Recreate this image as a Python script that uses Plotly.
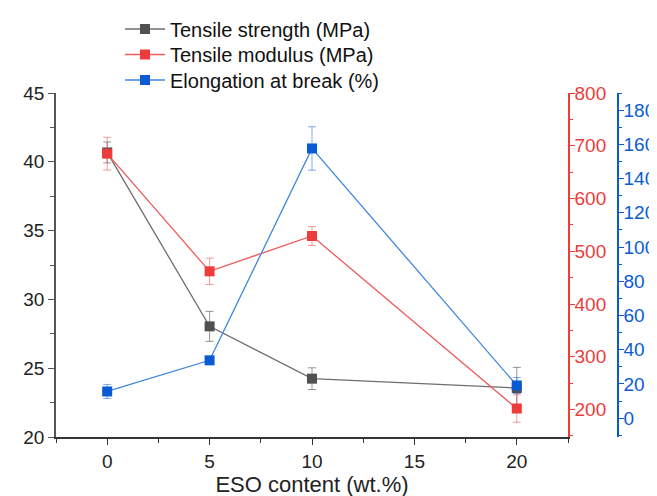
import plotly.graph_objects as go

eso = [0, 5, 10, 20]
strength = [40.68, 28.04, 24.24, 23.56]
strength_err = [0.76, 1.09, 0.79, 1.5]
modulus = [685, 462, 529, 202]
modulus_err = [31, 25, 18, 26]
elong = [15.6, 33.8, 157.6, 19.1]
elong_err = [4.1, 2.0, 12.7, 4.7]

FONT = "Arial, Liberation Sans, sans-serif"
GRAY = "#505050"
RED = "#ee3b3b"
BLUE = "#0a5bd3"
W, H = 657, 496

fig = go.Figure()
fig.add_trace(go.Scatter(
    x=eso, y=strength, name="Tensile strength (MPa)", mode="lines+markers",
    line=dict(color="#6e6e6e", width=1.3),
    marker=dict(symbol="square", size=10, color=GRAY),
    error_y=dict(type="data", array=strength_err, color="rgba(80,80,80,0.6)", thickness=1, width=4),
    yaxis="y", legend="legend"))
fig.add_trace(go.Scatter(
    x=eso, y=modulus, name="Tensile modulus (MPa)", mode="lines+markers",
    line=dict(color="#f05a5a", width=1.3),
    marker=dict(symbol="square", size=10, color=RED),
    error_y=dict(type="data", array=modulus_err, color="rgba(238,59,59,0.5)", thickness=1, width=4),
    yaxis="y2", legend="legend2"))
fig.add_trace(go.Scatter(
    x=eso, y=elong, name="Elongation at break (%)", mode="lines+markers",
    line=dict(color="#3f86dd", width=1.3),
    marker=dict(symbol="square", size=10, color=BLUE),
    error_y=dict(type="data", array=elong_err, color="rgba(10,91,211,0.5)", thickness=1, width=4),
    yaxis="y3", legend="legend3"))

def leg(ycenter):
    return dict(x=112 / W, y=1 - ycenter / H, xref="container", yref="container",
                xanchor="left", yanchor="middle", bgcolor="rgba(0,0,0,0)",
                font=dict(size=20, color="#111"), itemwidth=40)

fig.update_layout(
    width=W, height=H,
    margin=dict(l=48, r=45, t=85, b=67, autoexpand=False),
    paper_bgcolor="white", plot_bgcolor="white",
    font=dict(family=FONT, size=19, color="#222"),
    showlegend=True,
    legend=leg(21), legend2=leg(46.5), legend3=leg(72),
    xaxis=dict(domain=[0, 0.9078], range=[-2.5, 22.5], tickvals=[0, 5, 10, 15, 20],
               showline=True, linecolor="#333", linewidth=1.5, ticks="outside",
               ticklen=6, tickcolor="#333", showgrid=False, zeroline=False,
               minor=dict(ticks="outside", ticklen=4, dtick=2.5, tick0=0, tickcolor="#333"),
               title=dict(text="ESO content (wt.%)", font=dict(size=22), standoff=1)),
    yaxis=dict(range=[20, 45], dtick=5, showline=True, linecolor="#555", linewidth=1.5,
               ticks="outside", ticklen=6, tickcolor="#555", showgrid=False, zeroline=False,
               minor=dict(ticks="outside", ticklen=4, dtick=2.5, tickcolor="#555")),
    yaxis2=dict(range=[148, 800], dtick=100, tick0=0, overlaying="y", side="right",
                anchor="x", showline=True, linecolor=RED, linewidth=1.5,
                ticks="outside", ticklen=5, tickcolor=RED, tickfont=dict(color=RED),
                ticklabelstandoff=-4,
                showgrid=False, zeroline=False,
                minor=dict(ticks="outside", ticklen=3, dtick=50, tickcolor=RED)),
    yaxis3=dict(range=[-11, 190], dtick=20, tick0=0, overlaying="y", side="right",
                anchor="free", position=(610 - 48) / 564, showline=True, linecolor=BLUE,
                linewidth=1.5, ticks="outside", ticklen=5, tickcolor=BLUE,
                tickfont=dict(color=BLUE), ticklabelstandoff=-4,
                showgrid=False, zeroline=False,
                minor=dict(ticks="outside", ticklen=3, dtick=10, tickcolor=BLUE)),
)

fig.write_html("out.html")
